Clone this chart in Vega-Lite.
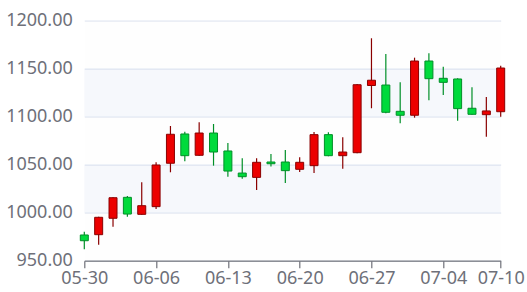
{
  "$schema": "https://vega.github.io/schema/vega-lite/v6.json",
  "width": 416.4,
  "height": 240,
  "autosize": {"type": "none"},
  "padding": {"left": 84.3, "top": 20.7, "right": 26.3, "bottom": 31.3},
  "background": "#ffffff",
  "config": {
    "view": {"stroke": null},
    "font": "Noto Sans",
    "axis": {"labelFont": "Noto Sans", "labelColor": "#6e7079", "labelFontSize": 18, "title": null},
    "axisY": {"grid": true, "gridColor": "#e0e6f1", "gridWidth": 1.2, "domain": false, "ticks": false, "tickSize": 0, "labelPadding": 12, "format": ".2f", "values": [950, 1000, 1050, 1100, 1150, 1200]},
    "axisX": {"grid": false, "domain": true, "domainColor": "#6e7079", "domainWidth": 1.2, "ticks": true, "tickColor": "#6e7079", "tickWidth": 1.2, "tickSize": 7, "labelPadding": 2, "labelAngle": 0}
  },
  "datasets": {
    "bands": [
      {"lo": 950, "hi": 1000, "k": "a"},
      {"lo": 1000, "hi": 1050, "k": "b"},
      {"lo": 1050, "hi": 1100, "k": "a"},
      {"lo": 1100, "hi": 1150, "k": "b"},
      {"lo": 1150, "hi": 1200, "k": "a"}
    ],
    "candles": [
      {"date": "05-30", "open": 976.8, "close": 970.8, "low": 961.9, "high": 980.2},
      {"date": "06-02", "open": 977.1, "close": 995.2, "low": 966.7, "high": 995.8},
      {"date": "06-03", "open": 994.2, "close": 1015.6, "low": 985.4, "high": 1016.2},
      {"date": "06-04", "open": 1016.0, "close": 998.6, "low": 995.8, "high": 1017.4},
      {"date": "06-05", "open": 998.3, "close": 1007.3, "low": 997.8, "high": 1031.7},
      {"date": "06-06", "open": 1006.3, "close": 1049.7, "low": 1003.9, "high": 1052.5},
      {"date": "06-09", "open": 1051.5, "close": 1081.7, "low": 1042.1, "high": 1090.3},
      {"date": "06-10", "open": 1082.0, "close": 1059.4, "low": 1053.5, "high": 1084.4},
      {"date": "06-11", "open": 1059.8, "close": 1083.0, "low": 1059.2, "high": 1094.2},
      {"date": "06-12", "open": 1083.0, "close": 1063.2, "low": 1049.0, "high": 1092.4},
      {"date": "06-13", "open": 1064.3, "close": 1043.4, "low": 1037.5, "high": 1072.6},
      {"date": "06-16", "open": 1041.3, "close": 1037.5, "low": 1035.4, "high": 1056.7},
      {"date": "06-17", "open": 1036.8, "close": 1052.5, "low": 1023.6, "high": 1056.7},
      {"date": "06-18", "open": 1052.8, "close": 1051.0, "low": 1048.0, "high": 1061.1},
      {"date": "06-19", "open": 1052.8, "close": 1043.8, "low": 1030.9, "high": 1065.3},
      {"date": "06-20", "open": 1045.2, "close": 1052.5, "low": 1042.4, "high": 1057.7},
      {"date": "06-23", "open": 1049.0, "close": 1081.3, "low": 1041.4, "high": 1084.1},
      {"date": "06-24", "open": 1081.3, "close": 1059.4, "low": 1058.9, "high": 1083.8},
      {"date": "06-25", "open": 1059.4, "close": 1063.2, "low": 1045.8, "high": 1078.5},
      {"date": "06-26", "open": 1062.5, "close": 1133.3, "low": 1062.0, "high": 1134.0},
      {"date": "06-27", "open": 1132.5, "close": 1138.0, "low": 1108.8, "high": 1181.7},
      {"date": "06-30", "open": 1133.0, "close": 1104.6, "low": 1103.5, "high": 1165.3},
      {"date": "07-01", "open": 1105.6, "close": 1101.5, "low": 1093.1, "high": 1135.8},
      {"date": "07-02", "open": 1101.5, "close": 1158.0, "low": 1099.0, "high": 1161.5},
      {"date": "07-03", "open": 1158.0, "close": 1139.6, "low": 1117.1, "high": 1166.0},
      {"date": "07-04", "open": 1140.0, "close": 1135.8, "low": 1122.6, "high": 1152.1},
      {"date": "07-07", "open": 1139.3, "close": 1108.4, "low": 1095.8, "high": 1140.0},
      {"date": "07-08", "open": 1108.8, "close": 1102.5, "low": 1102.0, "high": 1130.6},
      {"date": "07-09", "open": 1102.1, "close": 1106.0, "low": 1079.2, "high": 1120.5},
      {"date": "07-10", "open": 1105.2, "close": 1150.7, "low": 1100.0, "high": 1153.1}
    ]
  },
  "layer": [
    {
      "data": {"name": "bands"},
      "mark": {"type": "rect", "fillOpacity": 0.2},
      "encoding": {
        "y": {"field": "lo", "type": "quantitative", "scale": {"domain": [950, 1200], "nice": false, "zero": false}},
        "y2": {"field": "hi"},
        "fill": {"field": "k", "type": "nominal", "scale": {"domain": ["a", "b"], "range": ["#fafafa", "#d2dbee"]}, "legend": null}
      }
    },
    {
      "data": {"name": "candles"},
      "mark": {"type": "rule", "strokeWidth": 1.2},
      "encoding": {
        "x": {"field": "date", "type": "ordinal", "sort": null, "scale": {"type": "point", "padding": 0}, "axis": {"values": ["05-30", "06-06", "06-13", "06-20", "06-27", "07-04", "07-10"]}},
        "y": {"field": "low", "type": "quantitative"},
        "y2": {"field": "high"},
        "color": {"condition": {"test": "datum.close > datum.open", "value": "#8a0000"}, "value": "#008f28"}
      }
    },
    {
      "data": {"name": "candles"},
      "mark": {"type": "bar", "size": 8, "strokeWidth": 1},
      "encoding": {
        "x": {"field": "date", "type": "ordinal", "sort": null},
        "y": {"field": "open", "type": "quantitative"},
        "y2": {"field": "close"},
        "fill": {"condition": {"test": "datum.close > datum.open", "value": "#ec0000"}, "value": "#00da3c"},
        "stroke": {"condition": {"test": "datum.close > datum.open", "value": "#8a0000"}, "value": "#008f28"}
      }
    }
  ]
}
